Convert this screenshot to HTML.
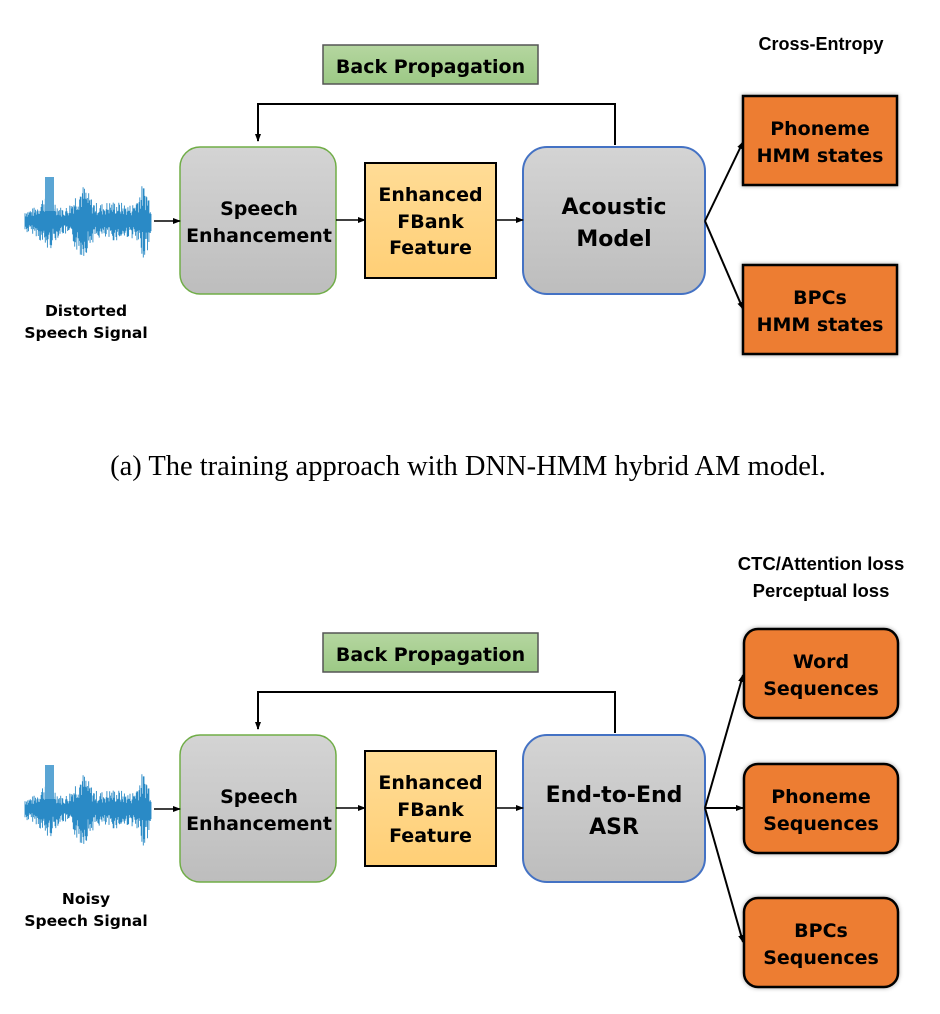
<!DOCTYPE html>
<html><head><meta charset="utf-8"><style>
html,body{margin:0;padding:0;background:#fff;}
svg{display:block;}
text{font-family:"DejaVu Sans","Liberation Sans",sans-serif;font-weight:bold;fill:#000;}
</style></head><body>
<svg id="s" width="940" height="1014" viewBox="0 0 940 1014" xmlns="http://www.w3.org/2000/svg">
<defs>
<linearGradient id="g" x1="0" y1="0" x2="0" y2="1"><stop offset="0" stop-color="#d4d4d4"/><stop offset="1" stop-color="#bdbdbd"/></linearGradient>
<linearGradient id="gr" x1="0" y1="0" x2="0" y2="1"><stop offset="0" stop-color="#b5d6a0"/><stop offset="1" stop-color="#9cc985"/></linearGradient>
<linearGradient id="y" x1="0" y1="0" x2="0" y2="1"><stop offset="0" stop-color="#ffdc96"/><stop offset="1" stop-color="#ffcf76"/></linearGradient>
<marker id="a" markerWidth="8" markerHeight="8" refX="7" refY="4" orient="auto" markerUnits="userSpaceOnUse"><path d="M0,1 L8,4 L0,7 Z" fill="#000"/></marker>
<filter id="sh" x="-10%" y="-10%" width="120%" height="120%"><feDropShadow dx="0" dy="0" stdDeviation="2" flood-color="#000" flood-opacity="0.35"/></filter>
</defs>
<g id="top">
<rect x="323" y="45" width="215" height="39" fill="url(#gr)" stroke="#555" stroke-width="1.5"/>
<text x="430.5" y="73" text-anchor="middle" font-size="19">Back Propagation</text>
<polyline points="615,145 615,104 258,104 258,141" fill="none" stroke="#000" stroke-width="2" marker-end="url(#a)"/>
<rect x="180" y="147" width="156" height="147" rx="20" fill="url(#g)" stroke="#70ad47" stroke-width="1.5"/>
<text x="259" y="215" text-anchor="middle" font-size="19">Speech</text>
<text x="259" y="242" text-anchor="middle" font-size="19">Enhancement</text>
<rect x="365" y="163" width="131" height="115" fill="url(#y)" stroke="#000" stroke-width="2"/>
<text x="430.5" y="201" text-anchor="middle" font-size="19">Enhanced</text>
<text x="430.5" y="228" text-anchor="middle" font-size="19">FBank</text>
<text x="430.5" y="254" text-anchor="middle" font-size="19">Feature</text>
<rect x="523" y="147" width="182" height="147" rx="24" fill="url(#g)" stroke="#4472c4" stroke-width="2"/>
<line x1="154" y1="221" x2="180" y2="221" stroke="#000" stroke-width="1.5" marker-end="url(#a)"/>
<line x1="336" y1="220" x2="365" y2="220" stroke="#000" stroke-width="1.5" marker-end="url(#a)"/>
<line x1="496" y1="220" x2="523" y2="220" stroke="#000" stroke-width="1.5" marker-end="url(#a)"/>
<text x="86" y="316" text-anchor="middle" font-size="15.5">Distorted</text>
<text x="86" y="338" text-anchor="middle" font-size="15.5">Speech Signal</text>
</g>
<text x="614" y="214" text-anchor="middle" font-size="22">Acoustic</text>
<text x="614" y="246" text-anchor="middle" font-size="22">Model</text>
<text x="821" y="50" text-anchor="middle" font-size="18" style="font-family:'Liberation Sans',sans-serif">Cross-Entropy</text>
<rect x="743" y="96" width="154" height="89" fill="#ed7d31" stroke="#000" stroke-width="2.5" filter="url(#sh)"/>
<text x="820" y="135" text-anchor="middle" font-size="19">Phoneme</text>
<text x="820" y="162" text-anchor="middle" font-size="19">HMM states</text>
<rect x="743" y="265" width="154" height="89" fill="#ed7d31" stroke="#000" stroke-width="2.5" filter="url(#sh)"/>
<text x="820" y="304" text-anchor="middle" font-size="19">BPCs</text>
<text x="820" y="331" text-anchor="middle" font-size="19">HMM states</text>
<line x1="705" y1="221" x2="743" y2="142" stroke="#000" stroke-width="2" marker-end="url(#a)"/>
<line x1="705" y1="221" x2="743" y2="309" stroke="#000" stroke-width="2" marker-end="url(#a)"/>
<text x="468" y="475" text-anchor="middle" font-size="28.5" style="font-family:'Liberation Serif',serif;font-weight:normal">(a) The training approach with DNN-HMM hybrid AM model.</text>

<use href="#top" transform="translate(0,588)"/>
<rect x="0" y="888" width="180" height="50" fill="#fff"/>
<text x="86" y="904" text-anchor="middle" font-size="15.5">Noisy</text>
<text x="86" y="926" text-anchor="middle" font-size="15.5">Speech Signal</text>
<text x="614" y="802" text-anchor="middle" font-size="22">End-to-End</text>
<text x="614" y="834" text-anchor="middle" font-size="22">ASR</text>
<text x="821" y="570" text-anchor="middle" font-size="18.5" style="font-family:'Liberation Sans',sans-serif">CTC/Attention loss</text>
<text x="821" y="597" text-anchor="middle" font-size="18.5" style="font-family:'Liberation Sans',sans-serif">Perceptual loss</text>
<g fill="#ed7d31" stroke="#000" stroke-width="2.5" filter="url(#sh)">
<rect x="744" y="629" width="154" height="89" rx="14"/>
<rect x="744" y="764" width="154" height="89" rx="14"/>
<rect x="744" y="898" width="154" height="89" rx="14"/>
</g>
<text x="821" y="668" text-anchor="middle" font-size="19">Word</text>
<text x="821" y="695" text-anchor="middle" font-size="19">Sequences</text>
<text x="821" y="803" text-anchor="middle" font-size="19">Phoneme</text>
<text x="821" y="830" text-anchor="middle" font-size="19">Sequences</text>
<text x="821" y="937" text-anchor="middle" font-size="19">BPCs</text>
<text x="821" y="964" text-anchor="middle" font-size="19">Sequences</text>
<line x1="705" y1="808" x2="743" y2="675" stroke="#000" stroke-width="2" marker-end="url(#a)"/>
<line x1="705" y1="808" x2="743" y2="808" stroke="#000" stroke-width="2" marker-end="url(#a)"/>
<line x1="705" y1="808" x2="743" y2="942" stroke="#000" stroke-width="2" marker-end="url(#a)"/>
<g id="w1"></g><g id="w2"></g>
</svg>
<script>
function wave(id,cy){
 var g=document.getElementById(id),d="",seed=7;
 function r(){seed=(seed*9301+49297)%233280;return seed/233280;}
 for(var x=25;x<=151;x+=0.7){
  var t=(x-25)/126;
  var env=12+18*Math.exp(-Math.pow((t-0.18)/0.07,2))+24*Math.exp(-Math.pow((t-0.45)/0.08,2))+8*Math.exp(-Math.pow((t-0.7)/0.15,2))+24*Math.exp(-Math.pow((t-0.94)/0.06,2));
  var a=env*(0.3+0.7*r()),b=env*(0.3+0.7*r());
  d+="M"+x.toFixed(1)+","+(cy-a).toFixed(1)+"V"+(cy+b).toFixed(1);
 }
 var p=document.createElementNS("http://www.w3.org/2000/svg","path");
 p.setAttribute("d",d);p.setAttribute("stroke","#2a8ac6");p.setAttribute("stroke-width","0.9");
 g.appendChild(p);
 var r2=document.createElementNS("http://www.w3.org/2000/svg","rect");
 r2.setAttribute("x","45");r2.setAttribute("y",cy-44);r2.setAttribute("width","9");r2.setAttribute("height","34");r2.setAttribute("fill","#5aa5d4");
 g.appendChild(r2);
}
wave("w1",221);wave("w2",809);
</script>
</body></html>
